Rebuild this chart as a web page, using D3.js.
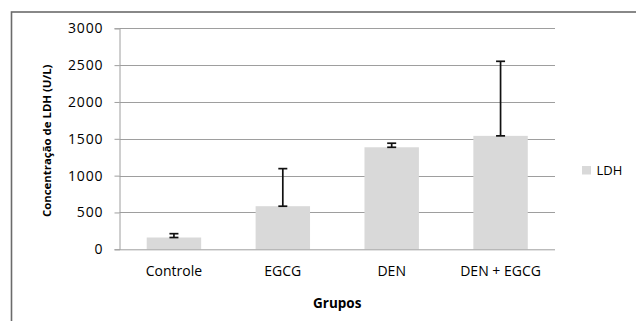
<!DOCTYPE html>
<html><head><meta charset="utf-8">
<script src="https://cdn.jsdelivr.net/npm/d3@7/dist/d3.min.js"></script>
<style>body{margin:0;background:#fff}svg{display:block}text{font-family:"Open Sans",sans-serif;fill:#000}</style>
</head><body>
<script>
const categories = ["Controle", "EGCG", "DEN", "DEN + EGCG"];
const values = [160, 585, 1385, 1540];
const errors = [52, 510, 55, 1012];
const yTicks = [0, 500, 1000, 1500, 2000, 2500, 3000];
const seriesName = "LDH";
const xTitle = "Grupos";
const yTitle = "Concentração de LDH (U/L)";

const W = 636, H = 321;
const svg = d3.select("body").append("svg").attr("width", W).attr("height", H);

// outer chart border (only left/top visible)
svg.append("rect").attr("x", 11.5).attr("y", 12).attr("width", 700).attr("height", 400)
  .attr("fill", "none").attr("stroke", "#6b6b6b").attr("stroke-width", 1.6);

const x0 = 119.5, x1 = 555, yTop = 28.3, yBot = 249.3;
const x = d3.scaleBand().domain(categories).range([x0, x1]).paddingInner(0.5).paddingOuter(0.25);
const y = d3.scaleLinear().domain([0, 3000]).range([yBot, yTop]);

// gridlines
svg.append("g").selectAll("line").data(yTicks.filter(d => d > 0)).join("line")
  .attr("x1", x0).attr("x2", x1).attr("y1", d => Math.round(y(d)) + 0.5).attr("y2", d => Math.round(y(d)) + 0.5)
  .attr("stroke", "#9e9e9e").attr("stroke-width", 1);

// y axis
const yAxis = d3.axisLeft(y).tickValues(yTicks).tickSize(5).tickPadding(11).tickFormat(d3.format("d"));
const gy = svg.append("g").attr("transform", `translate(${x0},0)`).call(yAxis);
gy.select(".domain").attr("stroke", "#9e9e9e");
gy.selectAll(".tick line").attr("stroke", "#9e9e9e");
gy.selectAll(".tick text").style("font-size", "14px").attr("letter-spacing", "0.9px").attr("fill", "#000");

// bars
svg.append("g").selectAll("rect").data(values).join("rect")
  .attr("x", (d, i) => x(categories[i])).attr("width", x.bandwidth())
  .attr("y", d => y(d)).attr("height", d => y(0) - y(d)).attr("fill", "#d9d9d9");

// x axis
const xAxis = d3.axisBottom(x).tickSize(0).tickPadding(17);
const gx = svg.append("g").attr("transform", `translate(0,${yBot})`).call(xAxis);
gx.select(".domain").attr("stroke", "#9e9e9e").attr("d", `M${x0},0.5H${x1}`);
gx.selectAll(".tick text").style("font-size", "14px").attr("fill", "#000");

// error bars
const eb = svg.append("g").attr("stroke", "#111").attr("stroke-width", 1.7);
values.forEach((v, i) => {
  const cx = x(categories[i]) + x.bandwidth() / 2;
  const yv = y(v), ye = y(v + errors[i]);
  eb.append("line").attr("x1", cx).attr("x2", cx).attr("y1", yv).attr("y2", ye);
  eb.append("line").attr("x1", cx - 4.5).attr("x2", cx + 4.5).attr("y1", yv).attr("y2", yv);
  eb.append("line").attr("x1", cx - 4.5).attr("x2", cx + 4.5).attr("y1", ye).attr("y2", ye);
});

// axis titles
svg.append("text").attr("x", (x0 + x1) / 2).attr("y", 307.5).attr("text-anchor", "middle")
  .style("font-size", "13.5px").style("font-weight", "bold").text(xTitle);
svg.append("text").attr("transform", `translate(51,${(yTop + yBot) / 2 + 2}) rotate(-90)`)
  .attr("text-anchor", "middle").style("font-size", "11.4px").style("font-weight", "bold").text(yTitle);

// legend
svg.append("rect").attr("x", 582).attr("y", 166).attr("width", 9).attr("height", 8.5).attr("fill", "#d9d9d9");
svg.append("text").attr("x", 596.5).attr("y", 175).style("font-size", "13px").text(seriesName);
</script>
</body></html>
